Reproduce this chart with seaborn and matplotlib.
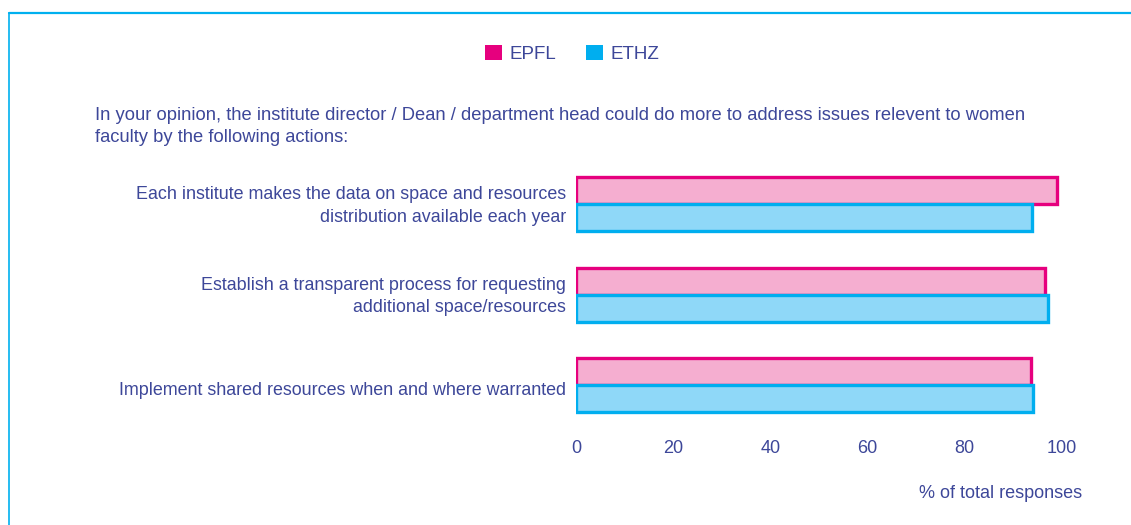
import matplotlib
matplotlib.use("Agg")
import matplotlib.pyplot as plt
import matplotlib.transforms as mtransforms
import seaborn as sns
import pandas as pd
from matplotlib.lines import Line2D
from matplotlib.patches import Rectangle

categories = [
    "Each institute makes the data on space and resources\ndistribution available each year",
    "Establish a transparent process for requesting\nadditional space/resources",
    "Implement shared resources when and where warranted",
]
series_names = ["EPFL", "ETHZ"]
epfl_values = [99.0, 96.5, 93.6]
ethz_values = [93.8, 97.1, 94.0]
x_ticks = [0, 20, 40, 60, 80, 100]
question = ("In your opinion, the institute director / Dean / department head could do more to address issues relevent to women\n"
            "faculty by the following actions:")
x_label = "% of total responses"

fill_colors = {"EPFL": "#f5aed0", "ETHZ": "#8fd8f8"}
edge_colors = {"EPFL": "#e6007e", "ETHZ": "#00aeef"}
text_color = "#3d4799"

sns.set_theme(style="white")
plt.rcParams['font.family'] = ['Liberation Sans', 'DejaVu Sans']

df = pd.DataFrame({
    "category": categories * 2,
    "value": epfl_values + ethz_values,
    "inst": [series_names[0]] * 3 + [series_names[1]] * 3,
})

W, H = 1131, 525
fig = plt.figure(figsize=(W / 100, H / 100), dpi=100)
ax = fig.add_axes([576 / W, 1 - 430.5 / H, (1062 - 576) / W, 271.5 / H])

sns.barplot(data=df, y="category", x="value", hue="inst", order=categories,
            hue_order=series_names, palette=fill_colors, width=0.6,
            orient="h", ax=ax, legend=False, saturation=1)

for cont, name in zip(ax.containers, series_names):
    for bar in cont:
        bar.set_edgecolor(edge_colors[name])
        bar.set_linewidth(2.4)

ax.set_xlim(0, 100)
ax.set_ylim(2.5, -0.5)
ax.set_xticks(x_ticks)
ax.set_xticklabels([str(t) for t in x_ticks])
ax.set_xlabel("")
ax.set_ylabel("")
for s in ax.spines.values():
    s.set_visible(False)
ax.tick_params(axis="x", length=0, pad=6.5, labelsize=13, labelcolor=text_color)
ax.tick_params(axis="y", length=0, pad=7, labelsize=12.9, labelcolor=text_color)
for lbl in ax.get_yticklabels():
    lbl.set_linespacing(1.4)
    dy = 2 if "\n" in lbl.get_text() else -2.5
    lbl.set_transform(lbl.get_transform() + mtransforms.ScaledTranslation(0, dy / 72, fig.dpi_scale_trans))

# question text
fig.text(95 / W, 1 - 107 / H, question, ha="left", va="top", fontsize=13.2,
         color=text_color, linespacing=1.42)

# x axis title
fig.text(1082 / W, 1 - 494 / H, x_label, ha="right", va="center", fontsize=13,
         color=text_color)

# legend
handles = [Rectangle((0, 0), 1, 1, facecolor=edge_colors[n], edgecolor="none") for n in series_names]
leg = fig.legend(handles, series_names, loc="center", bbox_to_anchor=(572 / W, 1 - 54 / H),
                 ncol=2, frameon=False, fontsize=13.5, handlelength=0.9, handleheight=0.9,
                 handletextpad=0.4, columnspacing=1.6)
for t in leg.get_texts():
    t.set_color(text_color)

# frame lines
fig.add_artist(Line2D([8.5 / W, 1], [1 - 12.5 / H, 1 - 12.5 / H], color="#00b0ef", lw=1.6,
                      transform=fig.transFigure))
fig.add_artist(Line2D([8.5 / W, 8.5 / W], [1 - 12.5 / H, 0], color="#00b0ef", lw=1.2,
                      transform=fig.transFigure))

fig.savefig("out.png", dpi=100, facecolor="white")
